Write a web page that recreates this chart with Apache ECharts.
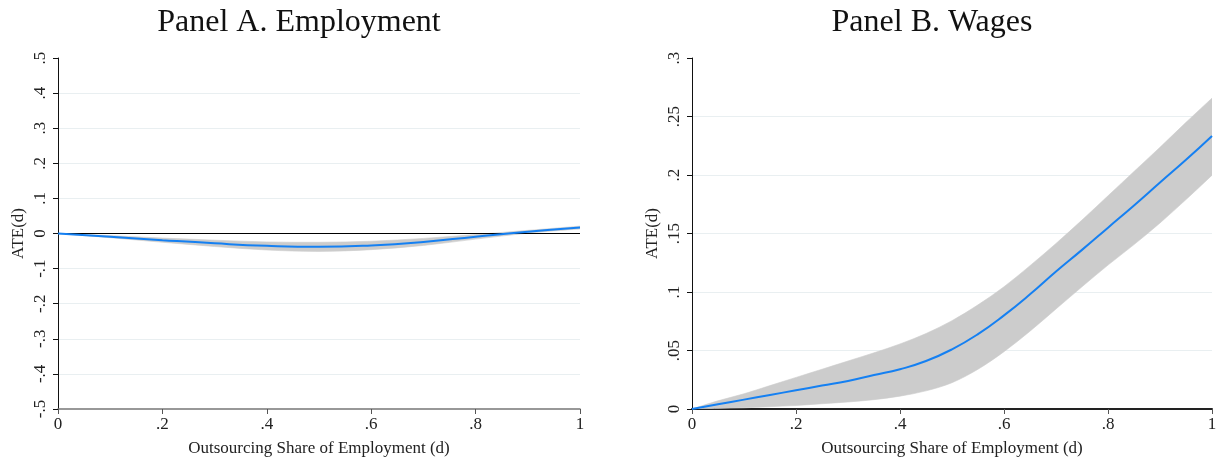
<!DOCTYPE html>
<html>
<head>
<meta charset="utf-8">
<script src="https://cdn.jsdelivr.net/npm/echarts@6/dist/echarts.min.js"></script>
<style>html,body{margin:0;padding:0;background:#fff;}#c{width:1220px;height:462px;}</style>
</head>
<body>
<div id="c"></div>
<script>
// Panel A: Employment
var dA = [0, 0.1, 0.2, 0.3, 0.4, 0.5, 0.6, 0.7, 0.8, 0.9, 1.0];
var ateA = [0, -0.009, -0.019, -0.028, -0.035, -0.038, -0.034, -0.024, -0.009, 0.005, 0.017];
var upperA = [0, -0.006, -0.013, -0.019, -0.024, -0.025, -0.022, -0.014, -0.003, 0.009, 0.021];
var lowerA = [0, -0.012, -0.025, -0.037, -0.047, -0.051, -0.046, -0.034, -0.016, 0.001, 0.013];

// Panel B: Wages
var dB = [0, 0.05, 0.1, 0.15, 0.2, 0.25, 0.3, 0.35, 0.4, 0.45, 0.5, 0.55, 0.6, 0.65, 0.7, 0.75, 0.8, 0.85, 0.9, 0.95, 1.0];
var ateB = [0, 0.004, 0.008, 0.012, 0.016, 0.020, 0.024, 0.029, 0.034, 0.041, 0.051, 0.064, 0.080, 0.098, 0.1175, 0.136, 0.155, 0.174, 0.1936, 0.213, 0.2334];
var upperB = [0, 0.007, 0.013, 0.020, 0.027, 0.034, 0.041, 0.048, 0.0556, 0.0645, 0.0755, 0.089, 0.1045, 0.1225, 0.1415, 0.1615, 0.1822, 0.203, 0.2237, 0.245, 0.2657];
var lowerB = [0, 0.0005, 0.001, 0.002, 0.003, 0.0045, 0.006, 0.008, 0.011, 0.0155, 0.0225, 0.034, 0.049, 0.0665, 0.0855, 0.1045, 0.123, 0.1405, 0.159, 0.179, 0.1998];

var titles = ['Panel A. Employment', 'Panel B. Wages'];
var xName = 'Outsourcing Share of Employment (d)';
var yName = 'ATE(d)';

function fmt(v) {
  var n = Number(v.toFixed(3));
  if (n === 0) return '0';
  var s = String(n);
  return s.replace(/^(-?)0\./, '$1.');
}
function pairs(xs, ys) { return xs.map(function (x, i) { return [x, ys[i]]; }); }

var serif = 'Liberation Serif';
var blue = '#1580f2';
var band = '#cccccc';
var gridColor = '#e9eff1';

function xAxis(gi, axisColor, axisWidth) {
  return {
    type: 'value', gridIndex: gi, min: 0, max: 1, interval: 0.2,
    name: xName, nameLocation: 'middle', nameGap: 31,
    nameTextStyle: { fontFamily: serif, fontSize: 17, color: '#222' },
    axisLine: { show: true, onZero: false, lineStyle: { color: axisColor, width: axisWidth } },
    axisTick: { show: true, length: 5, lineStyle: { color: '#555' } },
    axisLabel: { formatter: fmt, fontFamily: serif, fontSize: 17, color: '#222', margin: 7 },
    splitLine: { show: false }
  };
}
function yAxis(gi, min, max, interval) {
  return {
    type: 'value', gridIndex: gi, min: min, max: max, interval: interval,
    name: yName, nameLocation: 'middle', nameGap: 31,
    nameTextStyle: { fontFamily: serif, fontSize: 17, color: '#222' },
    axisLine: { show: true, lineStyle: { color: '#111', width: 1 } },
    axisTick: { show: true, length: 5, lineStyle: { color: '#111' } },
    axisLabel: { formatter: fmt, fontFamily: serif, fontSize: 17, color: '#222', rotate: 90, margin: 9 },
    splitLine: { show: true, showMinLine: false, showMaxLine: false, lineStyle: { color: gridColor, width: 1 } }
  };
}
// Catmull-Rom style cubic path through points (rendering only)
function curvePath(pts, startWithMove) {
  var s = '';
  var n = pts.length;
  s += (startWithMove ? 'M' : 'L') + pts[0][0] + ' ' + pts[0][1];
  for (var i = 0; i < n - 1; i++) {
    var p0 = pts[Math.max(i - 1, 0)], p1 = pts[i], p2 = pts[i + 1], p3 = pts[Math.min(i + 2, n - 1)];
    var c1x = p1[0] + (p2[0] - p0[0]) / 6, c1y = p1[1] + (p2[1] - p0[1]) / 6;
    var c2x = p2[0] - (p3[0] - p1[0]) / 6, c2y = p2[1] - (p3[1] - p1[1]) / 6;
    s += 'C' + c1x + ' ' + c1y + ' ' + c2x + ' ' + c2y + ' ' + p2[0] + ' ' + p2[1];
  }
  return s;
}
function bandSeries(gi, xs, up, lo, withZero) {
  var data = xs.map(function (x, i) { return [x, lo[i], up[i]]; });
  var s = {
    type: 'custom', xAxisIndex: gi, yAxisIndex: gi, data: data, silent: true, z: 1,
    encode: { x: 0, y: [1, 2] }, clip: true,
    renderItem: function (params, api) {
      if (params.dataIndex !== 0) return null;
      var upPts = [], loPts = [];
      for (var i = 0; i < xs.length; i++) upPts.push(api.coord([xs[i], up[i]]));
      for (var j = xs.length - 1; j >= 0; j--) loPts.push(api.coord([xs[j], lo[j]]));
      var d = curvePath(upPts, true) + curvePath(loPts, false) + 'Z';
      return {
        type: 'path',
        shape: { pathData: d },
        style: { fill: band, stroke: band, lineWidth: 0.6 }
      };
    }
  };
  var out = [s];
  if (withZero) {
    out.push({
      type: 'line', xAxisIndex: gi, yAxisIndex: gi, data: [], symbol: 'none', silent: true, z: 2,
      markLine: {
        silent: true, symbol: 'none', label: { show: false },
        lineStyle: { color: '#000', width: 1, type: 'solid' },
        data: [{ yAxis: 0 }], animation: false
      }
    });
  }
  return out;
}

var chart = echarts.init(document.getElementById('c'), null, { renderer: 'canvas' });
chart.setOption({
  animation: false,
  backgroundColor: '#fff',
  title: [
    { text: titles[0], left: 294, top: 2, textAlign: 'center', textStyle: { fontFamily: serif, fontSize: 32, fontWeight: 'normal', color: '#111' } },
    { text: titles[1], left: 927, top: 2, textAlign: 'center', textStyle: { fontFamily: serif, fontSize: 32, fontWeight: 'normal', color: '#111' } }
  ],
  grid: [
    { left: 58, right: 640, top: 58, bottom: 51 },
    { left: 692, right: 8, top: 58, bottom: 51 }
  ],
  xAxis: [xAxis(0, '#777', 1.5), xAxis(1, '#222', 2)],
  yAxis: [yAxis(0, -0.5, 0.5, 0.1), yAxis(1, 0, 0.3, 0.05)],
  series: [].concat(
    bandSeries(0, dA, upperA, lowerA, true),
    [{ type: 'line', xAxisIndex: 0, yAxisIndex: 0, data: pairs(dA, ateA), smooth: true, symbol: 'none', lineStyle: { color: blue, width: 2 }, z: 5 }],
    bandSeries(1, dB, upperB, lowerB, false),
    [{ type: 'line', xAxisIndex: 1, yAxisIndex: 1, data: pairs(dB, ateB), smooth: true, symbol: 'none', lineStyle: { color: blue, width: 2 }, z: 5 }]
  )
});
</script>
</body>
</html>
